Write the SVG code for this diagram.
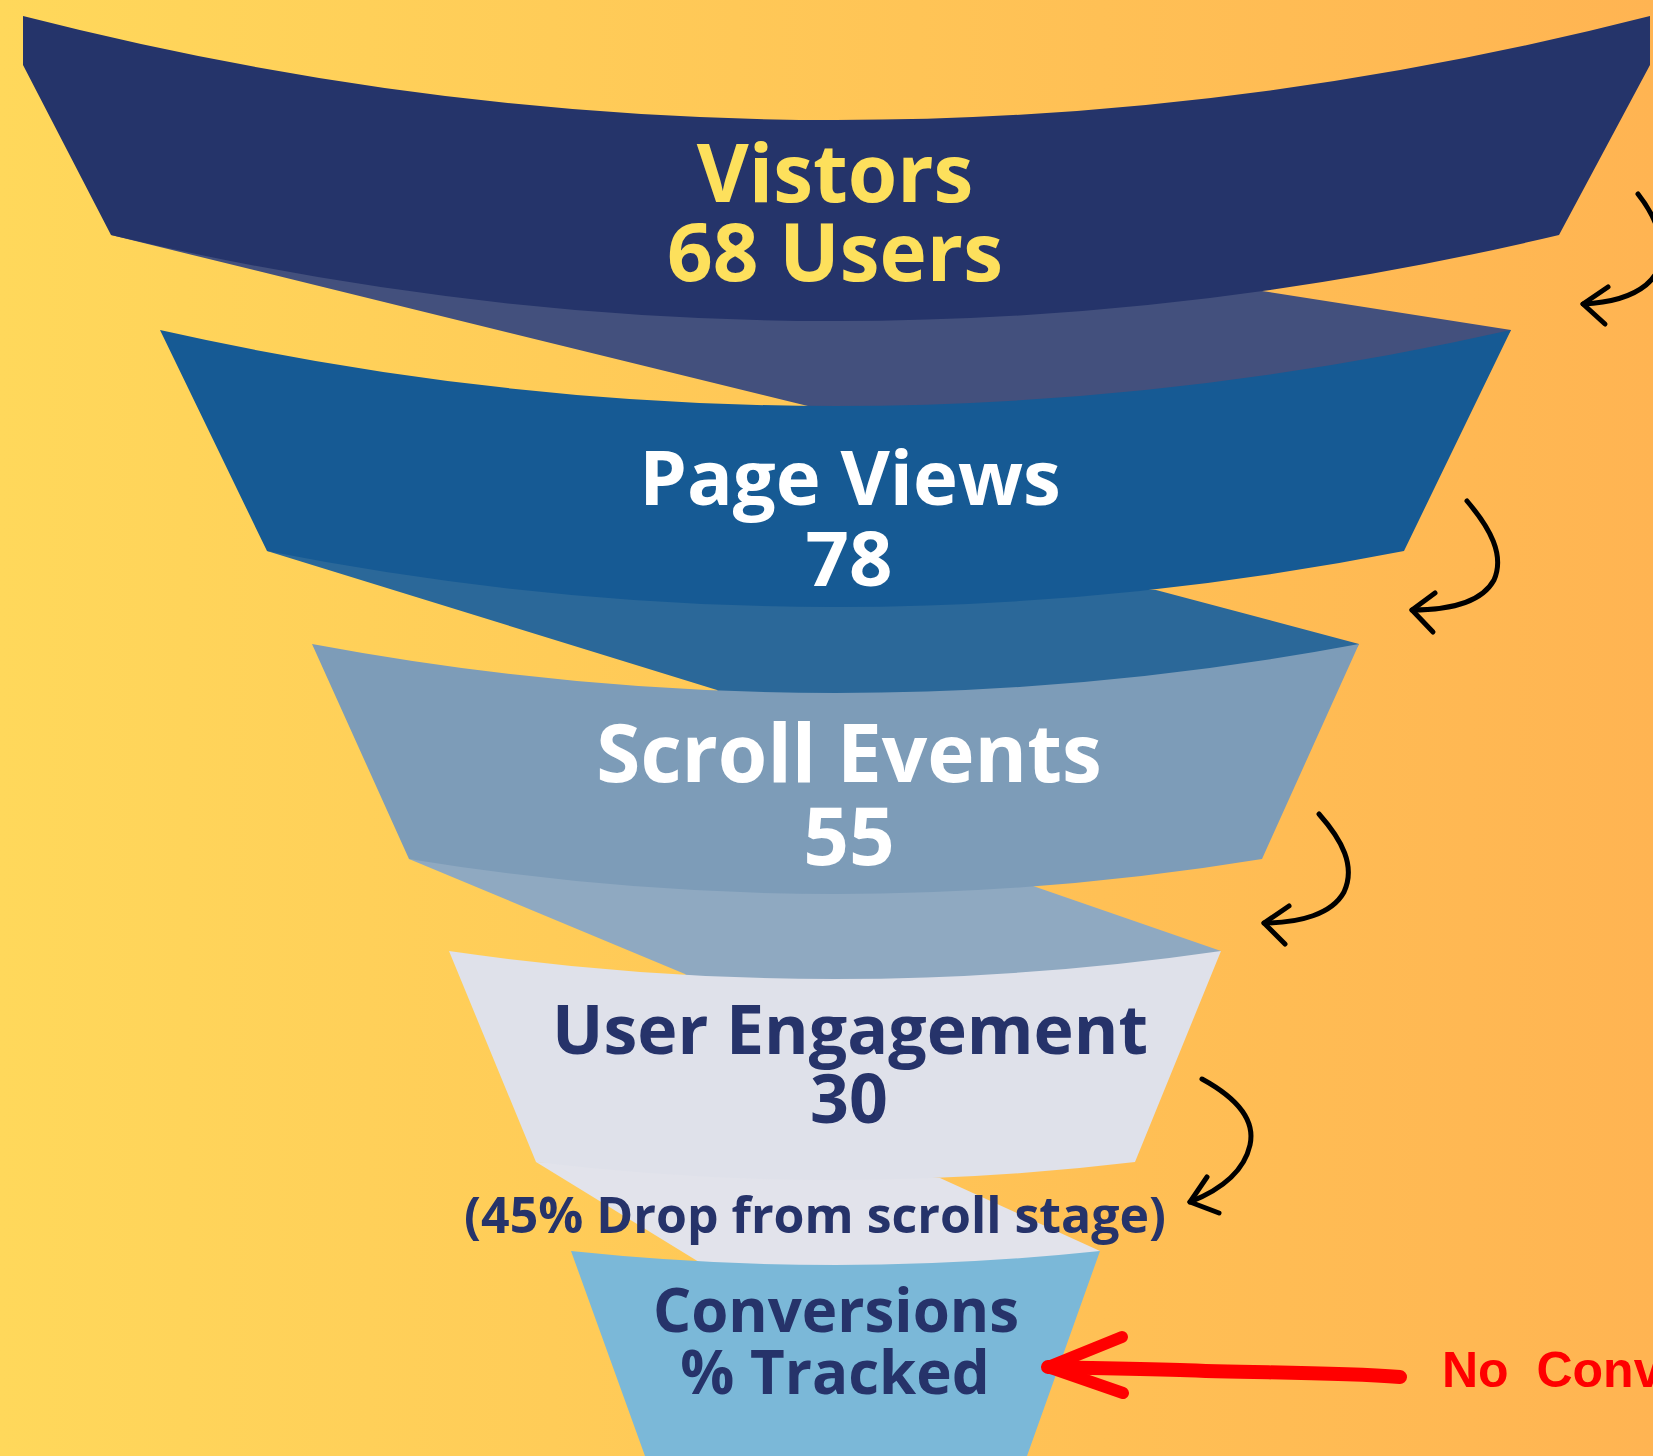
<svg xmlns="http://www.w3.org/2000/svg" width="1653" height="1456" viewBox="0 0 1653 1456">
  <defs>
    <linearGradient id="bg" x1="0" y1="0" x2="1" y2="0">
      <stop offset="0" stop-color="#FFD85B"/>
      <stop offset="1" stop-color="#FFB452"/>
    </linearGradient>
  </defs>
  <style>
    .lbl { font-family: "Open Sans", "Noto Sans", "DejaVu Sans", sans-serif; font-weight: 700; text-anchor: middle; }
    .big { font-size: 80px; }
    .pv { font-size: 76px; }
    .mid { font-size: 68px; }
    .sm { font-size: 60px; }
    .yel { fill: #FDE05C; }
    .wht { fill: #FFFFFF; }
    .nav { fill: #26336A; }
    .blk { fill: none; stroke: #000000; stroke-width: 5; stroke-linecap: round; stroke-linejoin: round; }
    .red { fill: none; stroke: #FF0000; stroke-linecap: round; stroke-linejoin: round; }
  </style>
  <rect x="0" y="0" width="1653" height="1456" fill="url(#bg)"/>

  <g id="shadows">
    <path d="M111,235 L812,407 L835,430 L1480,380 L1511,330 L1262,291 Z" fill="#43507D"/>
    <path d="M267,551 L717,690 L740,720 L1330,690 L1359,644 L1156,590 Z" fill="#2B6899"/>
    <path d="M409,859 L685,974 L700,990 L1200,980 L1221,951 L1033,886 Z" fill="#8FA9C1"/>
    <path d="M536,1162 L699,1262 L710,1275 L1085,1275 L1100,1251 L940,1178 Z" fill="#E2E3EB"/>
  </g>

  <g id="visitors">
    <path d="M23,16 Q836,224 1650,16 L1650,65 L1559,235 Q835,407 111,235 L23,65 Z" fill="#25346A"/>
    <text class="lbl big yel" x="835" y="202">Vistors</text>
    <text class="lbl big yel" x="835" y="281">68 Users</text>
  </g>

  <g id="page-views">
    <path d="M160,330 Q835.5,482 1511,330 L1404,551 Q835.5,663 267,551 Z" fill="#165A94"/>
    <text class="lbl pv wht" x="850" y="505">Page Views</text>
    <text class="lbl pv wht" x="849" y="586">78</text>
  </g>

  <g id="scroll-events">
    <path d="M312,644 Q835.5,742 1359,644 L1262,859 Q835.5,929 409,859 Z" fill="#7D9CB8"/>
    <text class="lbl big wht" x="849" y="782">Scroll Events</text>
    <text class="lbl big wht" x="849" y="865">55</text>
  </g>

  <g id="user-engagement">
    <path d="M449,951 Q835,1007 1221,951 L1135,1162 Q835.5,1198 536,1162 Z" fill="#DFE1EA"/>
    <text class="lbl mid nav" x="850" y="1054">User Engagement</text>
    <text class="lbl mid nav" x="849" y="1123">30</text>
  </g>

  <g id="drop-note">
    <text class="lbl nav" style="font-size:50px" x="815" y="1233">(45% Drop from scroll stage)</text>
  </g>

  <g id="conversions">
    <path d="M571,1251 Q835.5,1279 1100,1251 L1027,1456 L645,1456 Z" fill="#7BB8D8"/>
    <text class="lbl sm nav" x="836" y="1332">Conversions</text>
    <text class="lbl sm nav" x="835" y="1394">% Tracked</text>
  </g>

  <g id="no-conversions">
    <text x="1442" y="1387" style="font-family:'Liberation Sans', Arial, sans-serif; font-weight:700; font-size:50px; fill:#FF0000">No&#160;&#160;Conv</text>
  </g>

  <g id="connectors">
    <path class="blk" d="M1638,194 C1660,222 1674,262 1646,285 C1630,298 1605,303 1583,304"/>
    <path class="blk" d="M1608,287 L1583,304 L1605,324"/>
    <path class="blk" d="M1467,501 C1490,528 1505,555 1494,580 C1482,602 1450,610 1412,610"/>
    <path class="blk" d="M1435,593 L1412,610 L1433,632"/>
    <path class="blk" d="M1319,814 C1342,840 1356,866 1344,892 C1332,914 1300,923 1264,923"/>
    <path class="blk" d="M1289,906 L1264,923 L1285,944"/>
    <path class="blk" d="M1202,1079 C1235,1097 1256,1118 1250,1145 C1244,1172 1220,1190 1190,1202"/>
    <path class="blk" d="M1207,1177 L1190,1202 L1219,1213"/>
    <path class="red" stroke-width="14" d="M1400,1377 C1330,1372 1250,1373 1180,1370 C1120,1368 1080,1368 1048,1367"/>
    <path class="red" stroke-width="12" d="M1122,1337 L1048,1367 L1123,1393"/>
  </g>
</svg>
